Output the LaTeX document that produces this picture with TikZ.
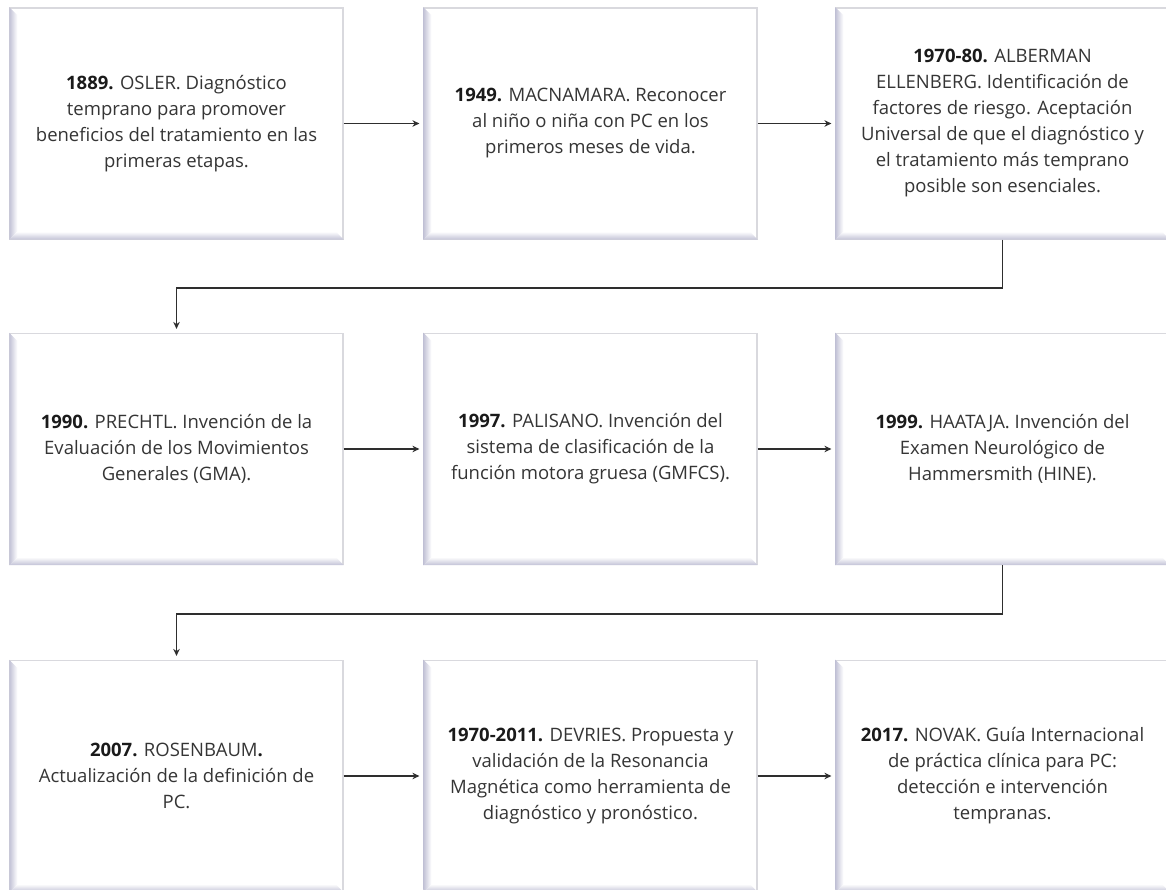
\documentclass[tikz,border=0pt]{standalone}
\usepackage{fontspec}
\setmainfont{Open Sans}
\usetikzlibrary{arrows.meta}
\definecolor{txt}{HTML}{353535}
\definecolor{yr}{HTML}{1A1A1A}
\definecolor{bev}{HTML}{C2C2D6}
\definecolor{edge}{HTML}{D9D9DE}
\definecolor{line}{HTML}{2E2E2E}
\tikzset{
  evbox/.style={fill=white, draw=edge, line width=1.2pt, minimum width=333pt, minimum height=231pt,
    align=center, inner sep=0pt, text=txt, font=\fontsize{18.5}{26}\selectfont},
  conn/.style={draw=line, line width=1.9pt, -{Stealth[length=7pt,width=6.5pt]}, shorten >=4pt},
}
\newcommand{\yr}[1]{{\bfseries\color{yr}#1}}
\begin{document}
\begin{tikzpicture}[x=1pt,y=-1pt]
\useasboundingbox (0,0) rectangle (1166,890);
\fill[white] (0,0) rectangle (1166,890);
\node[evbox] (b1) at (176.5,123.5) {\yr{1889.} OSLER. Diagnóstico\\temprano para promover\\beneficios del tratamiento en las\\primeras etapas.};
\node[evbox] (b2) at (590.5,123.5) {\yr{1949.} MACNAMARA. Reconocer\\al niño o niña con PC en los\\primeros meses de vida.};
\node[evbox] (b3) at (1002.5,123.5) {\yr{1970-80.} ALBERMAN\\ELLENBERG. Identificación de\\factores de riesgo. Aceptación\\Universal de que el diagnóstico y\\el tratamiento más temprano\\posible son esenciales.};
\node[evbox] (b4) at (176.5,449) {\yr{1990.} PRECHTL. Invención de la\\Evaluación de los Movimientos\\Generales (GMA).};
\node[evbox] (b5) at (590.5,449) {\yr{1997.} PALISANO. Invención del\\sistema de clasificación de la\\función motora gruesa (GMFCS).};
\node[evbox] (b6) at (1002.5,449) {\yr{1999.} HAATAJA. Invención del\\Examen Neurológico de\\Hammersmith (HINE).};
\node[evbox] (b7) at (176.5,776) {\yr{2007.} ROSENBAUM\yr{.}\\Actualización de la definición de\\PC.};
\node[evbox] (b8) at (590.5,776) {\yr{1970-2011.} DEVRIES. Propuesta y\\validación de la Resonancia\\Magnética como herramienta de\\diagnóstico y pronóstico.};
\node[evbox] (b9) at (1002.5,776) {\yr{2017.} NOVAK. Guía Internacional\\de práctica clínica para PC:\\detección e intervención\\tempranas.};
\foreach \n in {b1,b2,b3,b4,b5,b6,b7,b8,b9}{
  \shade[left color=bev, right color=white]
    (\n.north west) -- ([shift={(8pt,-8pt)}]\n.north west) -- ([shift={(8pt,8pt)}]\n.south west) -- (\n.south west) -- cycle;
  \shade[top color=white, bottom color=bev]
    (\n.south west) -- ([shift={(8pt,8pt)}]\n.south west) -- ([shift={(-8pt,8pt)}]\n.south east) -- (\n.south east) -- cycle;
}
\draw[conn] (b1.east) -- (b2.west);
\draw[conn] (b2.east) -- (b3.west);
\draw[conn] (b4.east) -- (b5.west);
\draw[conn] (b5.east) -- (b6.west);
\draw[conn] (b7.east) -- (b8.west);
\draw[conn] (b8.east) -- (b9.west);
\draw[conn] (b3.south) -- ++(0,48) -| (b4.north);
\draw[conn] (b6.south) -- ++(0,49) -| (b7.north);
\end{tikzpicture}
\end{document}
